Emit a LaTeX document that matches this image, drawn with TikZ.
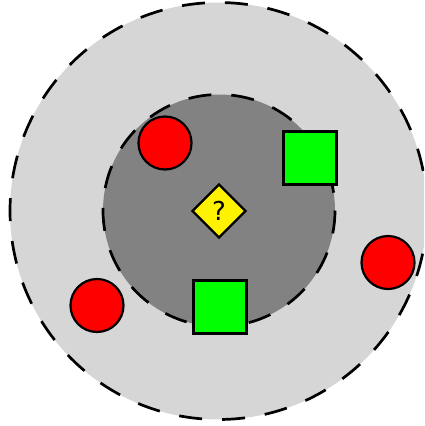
\documentclass[tikz,border=0pt]{standalone}
\usepackage{fontspec}
\setmainfont{DejaVu Sans}
\usetikzlibrary{shapes.geometric}
\begin{document}
\begin{tikzpicture}[x=1pt,y=-1pt,
  zone/.style={draw=black,line width=2.7pt,dash pattern=on 23pt off 20pt},
  redc/.style={circle,draw=black,fill=red,line width=2.2pt,minimum size=53pt,inner sep=0pt},
  greensq/.style={rectangle,draw=black,fill=green,line width=2.2pt,minimum size=53pt,inner sep=0pt},
  qdiam/.style={diamond,draw=black,fill=yellow,line width=2.2pt,minimum size=54pt,inner sep=0pt,font=\fontsize{26}{30}\selectfont}]
\useasboundingbox (0,0) rectangle (424,426);
\begin{scope}
\clip (0,0) rectangle (424,426);
\fill[black!16] (218.5,211) circle (208.5);
\draw[zone] (218.5,211) circle (208.5);
\end{scope}
\fill[black!49] (219,210.5) circle (116);
\draw[zone] (219,210.5) circle (116);
\node[redc] (r1) at (165,143) {};
\node[redc] (r2) at (97,305.5) {};
\node[redc] (r3) at (388,262.5) {};
\node[greensq] (g1) at (310,158) {};
\node[greensq] (g2) at (220,307) {};
\node[qdiam] (q) at (219,211) {?};
\end{tikzpicture}
\end{document}
